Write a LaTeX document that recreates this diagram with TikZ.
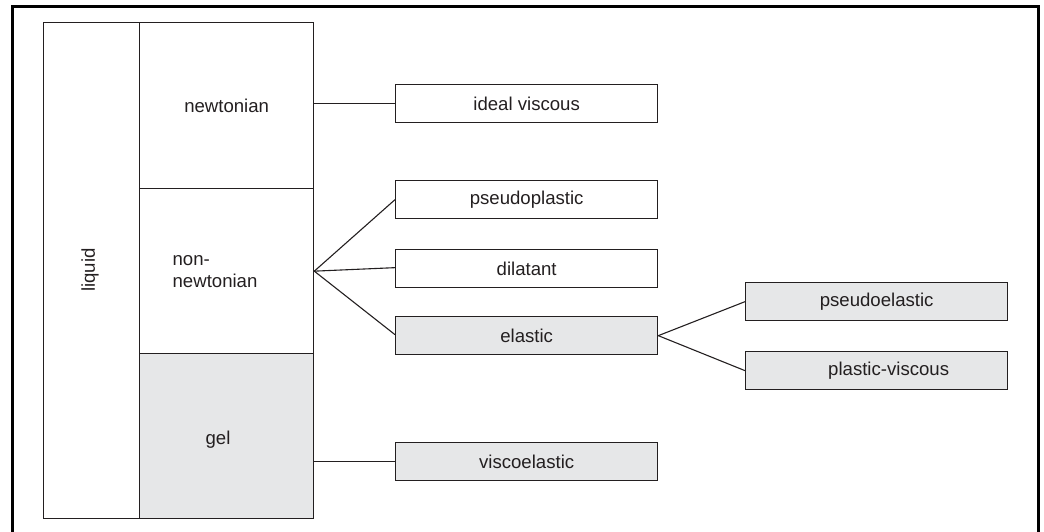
\documentclass[tikz,border=0pt]{standalone}
\usepackage{fontspec}
\setmainfont{Liberation Sans}
\usetikzlibrary{calc}
\definecolor{ink}{HTML}{231F20}
\definecolor{shade}{HTML}{E6E7E8}
\tikzset{
  cell/.style={draw=ink, line width=1.3pt, minimum width=174pt, inner sep=0pt, text=ink, font=\fontsize{18.6}{22}\selectfont, anchor=north west},
  leaf/.style={draw=ink, line width=1.3pt, minimum width=262pt, minimum height=38pt, inner sep=0pt, text=ink, font=\fontsize{18.6}{22}\selectfont, anchor=north west},
  grayfill/.style={fill=shade},
  link/.style={draw=ink, line width=1.1pt}
}
\begin{document}
\begin{tikzpicture}[x=1pt,y=-1pt]
\useasboundingbox (0,0) rectangle (1044,531);
% outer frame (open at bottom)
\draw[line width=3pt, line join=miter] (12,540) -- (12,6) -- (1038,6) -- (1038,540);
% liquid column
\node[draw=ink, line width=1.3pt, minimum width=96pt, minimum height=496pt, inner sep=0pt, anchor=north west] (liquid) at (43,22) {};
\node[rotate=90, text=ink, font=\fontsize{18.6}{22}\selectfont] (liquidtxt) at (90,270) {liquid};
% middle column
\node[cell, minimum height=166pt] (newt) at (139,22) {newtonian};
\node[cell, minimum height=165pt, text width=108pt, inner xsep=33pt, align=left] (nonnewt) at (139,188) {non-\\newtonian};
\node[cell, grayfill, minimum height=165pt] (gel) at (139,353) {};
\node[text=ink, font=\fontsize{18.6}{22}\selectfont] (geltxt) at (218,440) {gel};
% leaves
\node[leaf] (ideal) at (395,84) {ideal viscous};
\node[leaf] (pseudo) at (395,180) {pseudoplastic};
\node[leaf] (dilat) at (395,249) {dilatant};
\node[leaf, grayfill] (elastic) at (395,316) {elastic};
\node[leaf, grayfill] (visco) at (395,442) {viscoelastic};
\node[leaf, grayfill] (pseudoel) at (745,282) {pseudoelastic};
\node[leaf, grayfill] (plastic) at (745,351) {\hspace{24pt}plastic-viscous};
% connectors
\draw[link] (newt.east |- ideal.west) -- (ideal.west);
\draw[link] (nonnewt.east) -- (pseudo.west);
\draw[link] (nonnewt.east) -- ($(dilat.west)+(0,-1)$);
\draw[link] (nonnewt.east) -- ($(elastic.west)+(0,-1)$);
\draw[link] (elastic.east) -- (pseudoel.west);
\draw[link] (elastic.east) -- (plastic.west);
\draw[link] (gel.east |- visco.west) -- (visco.west);
\end{tikzpicture}
\end{document}
